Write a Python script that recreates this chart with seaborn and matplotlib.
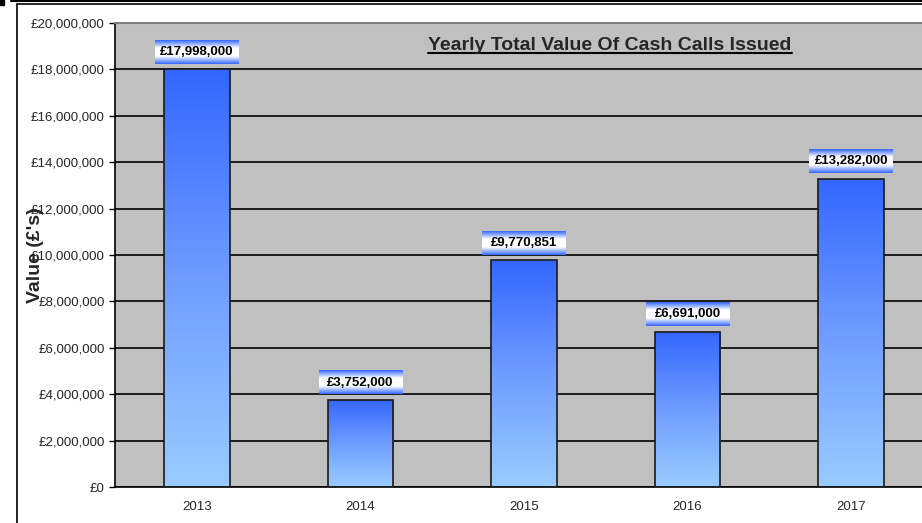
import numpy as np
import pandas as pd
import matplotlib
matplotlib.use("Agg")
import matplotlib.pyplot as plt
from matplotlib.colors import LinearSegmentedColormap
from matplotlib.lines import Line2D
import seaborn as sns

years = ["2013", "2014", "2015", "2016", "2017"]
values = [17998000, 3752000, 9770851, 6691000, 13282000]
value_labels = ["£17,998,000", "£3,752,000", "£9,770,851", "£6,691,000", "£13,282,000"]
title = "Yearly Total Value Of Cash Calls Issued"
ylabel = "Value (£'s)"

sns.set_theme(style="white")
plt.rcParams['font.family'] = ['Liberation Sans', 'DejaVu Sans']

W, H = 922, 523
fig = plt.figure(figsize=(W / 100, H / 100), dpi=100)
fig.patch.set_facecolor("white")

# axes in pixel coords: left 115, right 933, top 23, bottom 487
ax = fig.add_axes([115 / W, (H - 487) / H, 818 / W, 464 / H])
ax.set_facecolor("#C0C0C0")

df = pd.DataFrame({"year": years, "value": values})
sns.barplot(data=df, x="year", y="value", ax=ax, width=0.4,
            facecolor="none", edgecolor="#1a1a1a", linewidth=1.2, zorder=3)

ax.set_xlim(-0.5, 4.5)
ax.set_ylim(0, 20000000)

bar_cmap = LinearSegmentedColormap.from_list("bar", ["#99CCFF", "#6F9CFF", "#3366FF"])
grad = np.linspace(0, 1, 256).reshape(-1, 1)
for p in ax.patches:
    x0, y0 = p.get_x(), p.get_y()
    w, h = p.get_width(), p.get_height()
    im = ax.imshow(grad, cmap=bar_cmap, origin="lower", aspect="auto",
                   extent=(x0, x0 + w, y0, y0 + h), zorder=2.5, interpolation="bilinear")
    im.set_clip_path(p)

# label boxes with gradient (blue-white-blue)
lab_cmap = LinearSegmentedColormap.from_list("lab", ["#3366FF", "#FFFFFF", "#FFFFFF", "#3366FF"])
bw = 0.51
bh = 1000000
for i, (v, t) in enumerate(zip(values, value_labels)):
    yb = v + 250000
    ax.imshow(grad, cmap=lab_cmap, origin="lower", aspect="auto",
              extent=(i - bw / 2, i + bw / 2, yb, yb + bh), zorder=4, interpolation="bilinear")
    ax.text(i, yb + bh / 2, t, ha="center", va="center", fontsize=9.5,
            fontweight="bold", color="black", zorder=5)
ax.set_xlim(-0.5, 4.5)
ax.set_ylim(0, 20000000)

# grid
ax.set_yticks(np.arange(0, 20000001, 2000000))
ax.yaxis.grid(True, color="black", linewidth=1.2, zorder=1)
ax.set_axisbelow(True)
ax.set_yticklabels(["£{:,}".format(int(v)) for v in np.arange(0, 20000001, 2000000)], fontsize=9.5)

ax.set_xticks(range(5))
ax.set_xticklabels(years, fontsize=9.5)
ax.set_xticks(np.arange(-0.5, 5, 1), minor=True)
ax.tick_params(axis="x", which="major", length=0, pad=10)
ax.tick_params(axis="x", which="minor", length=4, width=1, color="black", direction="out")
ax.tick_params(axis="y", length=4.5, width=1, color="black", direction="out", pad=3, left=True)
ax.set_xlabel("")
ax.set_ylabel("")

for s in ["left", "bottom"]:
    ax.spines[s].set_color("black")
    ax.spines[s].set_linewidth(1.2)
ax.spines["top"].set_color("#808080")
ax.spines["top"].set_linewidth(1.5)
ax.spines["right"].set_visible(False)

fig.text(36 / W, (H - 255) / H, ylabel, rotation=90, ha="center", va="center",
         fontsize=14, fontweight="bold")

# title with underline
tt = fig.text(610 / W, (H - 45) / H, title, ha="center", va="center",
              fontsize=14, fontweight="bold", zorder=10)
fig.canvas.draw()
bb = tt.get_window_extent(fig.canvas.get_renderer())
uy = (bb.y0 + 0.5) / H
fig.add_artist(Line2D([bb.x0 / W, bb.x1 / W], [uy, uy], color="black", linewidth=1.5,
                      transform=fig.transFigure))

# outer border
fig.add_artist(Line2D([16.5 / W, 16.5 / W], [0, (H - 3.5) / H], color="black", linewidth=1.2,
                      transform=fig.transFigure))
fig.add_artist(Line2D([16.5 / W, 1], [(H - 3.5) / H, (H - 3.5) / H], color="black", linewidth=1.2,
                      transform=fig.transFigure))
fig.add_artist(Line2D([11 / W, 1], [(H - 0.8) / H, (H - 0.8) / H], color="black", linewidth=1.5,
                      transform=fig.transFigure))
fig.add_artist(plt.Rectangle((0, (H - 5) / H), 4 / W, 5 / H, color="black",
                             transform=fig.transFigure))

fig.savefig("out.png", dpi=100)
